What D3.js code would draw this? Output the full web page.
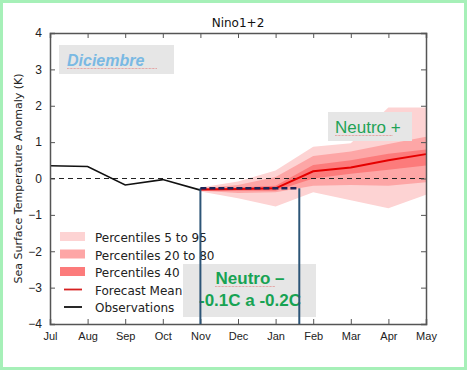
<!DOCTYPE html>
<html>
<head>
<meta charset="utf-8">
<script src="https://cdn.jsdelivr.net/npm/d3@7"></script>
<style>
  body { margin: 0; background: #fff; }
  svg { display: block; font-family: "DejaVu Sans", sans-serif; }
</style>
</head>
<body>
<div id="chart"></div>
<script>
// data
var months = ["Jul", "Aug", "Sep", "Oct", "Nov", "Dec", "Jan", "Feb", "Mar", "Apr", "May"]
var yTicks = [-4, -3, -2, -1, 0, 1, 2, 3, 4]

var obsIdx = [0, 1, 2, 3, 4]
var obsVals = [0.35, 0.33, -0.18, -0.03, -0.32]

var fcIdx = [4, 5, 6, 7, 8, 9, 10]
var meanVals = [-0.3, -0.29, -0.27, 0.2, 0.3, 0.5, 0.67]
var p5 = [-0.36, -0.54, -0.77, -0.38, -0.6, -0.82, -0.45]
var p95 = [-0.25, -0.08, 0.22, 0.87, 0.97, 1.95, 1.95]
var p20 = [-0.34, -0.4, -0.38, -0.2, -0.18, -0.2, -0.1]
var p80 = [-0.27, -0.18, 0.04, 0.62, 0.74, 0.95, 1.15]
var p40lo = [-0.33, -0.34, -0.34, 0.0, 0.13, 0.24, 0.36]
var p40hi = [-0.28, -0.25, -0.2, 0.37, 0.5, 0.68, 0.8]

var legendNames = ["Percentiles 5 to 95", "Percentiles 20 to 80", "Percentiles 40", "Forecast Mean", "Observations"]

// annotation: neutral window (month index) and level
var windowStart = 4, windowEnd = 6.63, windowLevel = -0.27

var W = 468, H = 372
var margin = {top: 33, left: 50, right: 42, bottom: 48}
var chart = {width: W - margin.left - margin.right, height: H - margin.top - margin.bottom}

var svg = d3.select("#chart").append("svg")
    .attr("width", W)
    .attr("height", H)

svg.append("rect")
    .attr("x", 1.5).attr("y", 1.5)
    .attr("width", W - 4).attr("height", H - 5)
    .attr("fill", "none")
    .attr("stroke", "#a6f0b8")
    .attr("stroke-width", 3)

var frame = svg.append("g")
    .attr("transform", `translate(${margin.left}, ${margin.top})`)

var x = d3.scaleLinear().domain([0, months.length - 1]).range([0, chart.width])
var y = d3.scaleLinear().domain([-4, 4]).range([chart.height, 0])

// bands
function band(lo, hi) {
    return d3.area()
        .x((d, i) => x(fcIdx[i]))
        .y0((d, i) => y(lo[i]))
        .y1((d, i) => y(hi[i]))(fcIdx)
}
frame.append("path").attr("d", band(p5, p95)).attr("fill", "#fdd3d3")
frame.append("path").attr("d", band(p20, p80)).attr("fill", "#fda6a6")
frame.append("path").attr("d", band(p40lo, p40hi)).attr("fill", "#fc7b7b")

// zero line
frame.append("line")
    .attr("x1", 0).attr("x2", chart.width)
    .attr("y1", y(0)).attr("y2", y(0))
    .attr("stroke", "#222").attr("stroke-width", 1)
    .attr("stroke-dasharray", "5,4")

// forecast mean
frame.append("path")
    .datum(meanVals)
    .attr("d", d3.line().x((d, i) => x(fcIdx[i])).y(d => y(d)))
    .attr("fill", "none")
    .attr("stroke", "#e50000")
    .attr("stroke-width", 2)

// observations
frame.append("path")
    .datum(obsVals)
    .attr("d", d3.line().x((d, i) => x(obsIdx[i])).y(d => y(d)))
    .attr("fill", "none")
    .attr("stroke", "#111")
    .attr("stroke-width", 1.6)

// axes, matplotlib style inward ticks
var fmt = d => d < 0 ? "\u2212" + Math.abs(d) : "" + d
var axLeft = frame.append("g")
    .call(d3.axisLeft(y).tickValues(yTicks).tickSize(-5).tickPadding(8).tickFormat(fmt))
var axRight = frame.append("g").attr("transform", `translate(${chart.width},0)`)
    .call(d3.axisRight(y).tickValues(yTicks).tickSize(-5).tickFormat(""))
var axBottom = frame.append("g").attr("transform", `translate(0,${chart.height})`)
    .call(d3.axisBottom(x).tickValues(d3.range(months.length)).tickSize(-5).tickPadding(8).tickFormat(i => months[i]))
var axTop = frame.append("g")
    .call(d3.axisTop(x).tickValues(d3.range(months.length)).tickSize(-5).tickFormat(""))

;[axLeft, axRight, axBottom, axTop].forEach(g => {
    g.select(".domain").attr("stroke", "#555").attr("stroke-width", 1.5)
    g.selectAll(".tick line").attr("stroke", "#555")
    g.selectAll("text").attr("fill", "#222").style("font-size", "11px")
})
axLeft.selectAll("text").style("font-size", "12px")

svg.append("text")
    .attr("x", margin.left + chart.width / 2).attr("y", 27)
    .attr("text-anchor", "middle")
    .style("font-size", "12px").attr("fill", "#111")
    .text("Nino1+2")

svg.append("text")
    .attr("transform", `translate(22, ${margin.top + chart.height / 2}) rotate(-90)`)
    .attr("text-anchor", "middle")
    .style("font-size", "11px").attr("fill", "#222")
    .text("Sea Surface Temperature Anomaly (K)")

// text boxes
function wavy(x0, x1, yy) {
    var p = "M" + x0 + "," + yy
    for (var xx = x0; xx < x1; xx += 2) p += "L" + (xx + 1) + "," + (yy + 1) + "L" + (xx + 2) + "," + yy
    svg.append("path").attr("d", p).attr("fill", "none")
        .attr("stroke", "#e05050").attr("stroke-width", 0.6).attr("stroke-dasharray", "1,1")
}

svg.append("rect").attr("x", 59).attr("y", 45).attr("width", 115).attr("height", 29).attr("fill", "#e6e6e6")
svg.append("text").attr("x", 67).attr("y", 66)
    .style("font-size", "16px").style("font-weight", "bold").style("font-style", "italic")
    .style("font-family", "Liberation Sans, Arial, sans-serif")
    .attr("fill", "#7ab9e3").text("Diciembre")
wavy(67, 156, 68)

svg.append("rect").attr("x", 328).attr("y", 112).attr("width", 84).attr("height", 29).attr("fill", "#e6e6e6")
svg.append("text").attr("x", 335).attr("y", 133)
    .style("font-size", "17px")
    .style("font-family", "Liberation Sans, Arial, sans-serif")
    .attr("fill", "#1fa356").text("Neutro +")
wavy(335, 392, 135)

svg.append("rect").attr("x", 183).attr("y", 264).attr("width", 133).attr("height", 53).attr("fill", "#e6e6e6")
svg.append("text").attr("x", 250).attr("y", 284)
    .attr("text-anchor", "middle")
    .style("font-size", "17px").style("font-weight", "bold")
    .style("font-family", "Liberation Sans, Arial, sans-serif")
    .attr("fill", "#17a353").text("Neutro \u2013")
wavy(215, 274, 286)
svg.append("text").attr("x", 250).attr("y", 306)
    .attr("text-anchor", "middle")
    .style("font-size", "17px").style("font-weight", "bold")
    .style("font-family", "Liberation Sans, Arial, sans-serif")
    .attr("fill", "#17a353").text("-0.1C a -0.2C")

// legend
var legendColors = ["#fdd3d3", "#fda6a6", "#fc7b7b", "#d62020", "#111"]
var leg = svg.append("g").attr("transform", "translate(60, 237)")
legendNames.forEach((name, i) => {
    var row = leg.append("g").attr("transform", `translate(0, ${i * 17.5})`)
    if (i < 3) {
        row.append("rect").attr("x", 0).attr("y", -5).attr("width", 25).attr("height", 9)
            .attr("fill", legendColors[i])
    } else {
        row.append("line").attr("x1", 4).attr("x2", 22).attr("y1", 0).attr("y2", 0)
            .attr("stroke", legendColors[i]).attr("stroke-width", 1.8)
    }
    row.append("text").attr("x", 35).attr("y", 5)
        .style("font-size", "12px").attr("fill", "#222")
        .text(name)
})

// neutral window lines, drawn over the boxes
var ann = svg.append("g")
    .attr("transform", `translate(${margin.left}, ${margin.top})`)
ann.selectAll(".vline").data([windowStart, windowEnd])
    .enter().append("line")
    .attr("class", "vline")
    .attr("x1", d => x(d)).attr("x2", d => x(d))
    .attr("y1", y(windowLevel)).attr("y2", chart.height)
    .attr("stroke", "#2d5577").attr("stroke-width", 2)

ann.append("line")
    .attr("x1", x(windowStart)).attr("x2", x(windowEnd))
    .attr("y1", y(windowLevel)).attr("y2", y(windowLevel))
    .attr("stroke", "#1c2456").attr("stroke-width", 2.5)
    .attr("stroke-dasharray", "6,3")
</script>
</body>
</html>
